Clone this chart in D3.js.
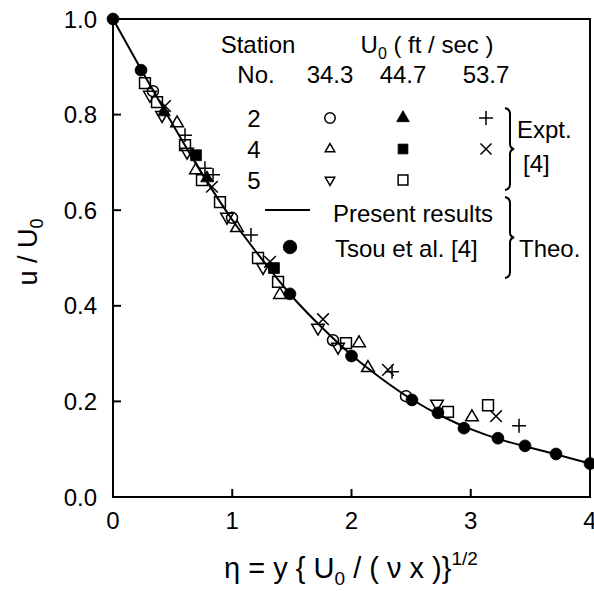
<!DOCTYPE html>
<html>
<head>
<meta charset="utf-8">
<script src="https://cdn.jsdelivr.net/npm/d3@7"></script>
<style>
  body { margin: 0; background: #fff; }
  text { font-family: "Liberation Sans", Arial, Helvetica, sans-serif; fill: #000; }
</style>
</head>
<body>
<svg id="chart" width="594" height="591"></svg>
<script>
// Present results (solid line)
var presentEta = [0, 0.25, 0.5, 0.75, 1.0, 1.25, 1.5, 1.75, 2.0, 2.25, 2.5, 2.75, 3.0, 3.25, 3.5, 3.75, 4.0]
var presentU   = [1.0, 0.888, 0.78, 0.675, 0.58, 0.497, 0.42, 0.355, 0.297, 0.248, 0.205, 0.17, 0.142, 0.12, 0.103, 0.087, 0.07]

// Tsou et al. [4] (solid circles)
var tsouEta = [0, 0.235, 1.484, 2.0, 2.507, 2.725, 2.943, 3.228, 3.455, 3.715, 4.0]
var tsouU   = [1.0, 0.893, 0.425, 0.295, 0.203, 0.176, 0.144, 0.123, 0.107, 0.090, 0.070]

// Expt. [4]  U0 = 34.3 ft/sec
var st2_343 = [[0.335, 0.849], [0.998, 0.584], [1.845, 0.328], [2.457, 0.211]]
var st4_343 = [[0.537, 0.782], [0.696, 0.684], [1.040, 0.563], [1.400, 0.423], [2.063, 0.322], [2.138, 0.270], [3.010, 0.167]]
var st5_343 = [[0.310, 0.841], [0.411, 0.799], [0.621, 0.722], [0.956, 0.586], [1.258, 0.481], [1.719, 0.354], [1.887, 0.314], [2.717, 0.195]]
// U0 = 44.7 ft/sec
var st2_447 = [[0.428, 0.805], [0.788, 0.667]]
var st4_447 = [[0.696, 0.715], [1.350, 0.479]]
var st5_447 = [[0.268, 0.866], [0.369, 0.826], [0.604, 0.736], [0.746, 0.663], [0.897, 0.617], [1.216, 0.500], [1.384, 0.450], [1.954, 0.322], [2.809, 0.178], [3.145, 0.192]]
// U0 = 53.7 ft/sec
var st2_537 = [[0.604, 0.757], [0.771, 0.688], [0.839, 0.674], [1.157, 0.548], [2.340, 0.262], [3.405, 0.149]]
var st4_537 = [[0.436, 0.818], [0.830, 0.649], [1.317, 0.492], [1.761, 0.372], [2.306, 0.266], [3.212, 0.169]]

var xTicks = [0, 1, 2, 3, 4]
var yTicks = [0, 0.2, 0.4, 0.6, 0.8, 1.0]
var speeds = ["34.3", "44.7", "53.7"]
var stations = ["2", "4", "5"]

var svg = d3.select("#chart")

var x = d3.scaleLinear().domain([0, 4]).range([113, 590])
var y = d3.scaleLinear().domain([0, 1]).range([497, 19])

// marker styles: symbol type, size, filled?, rotate
var styles = {
  circle:   { type: d3.symbolCircle, size: 95, fill: false },
  triUp:    { type: d3.symbolTriangle2, size: 115, fill: false },
  triDown:  { type: d3.symbolTriangle2, size: 115, fill: false, rot: 180 },
  triUpF:   { type: d3.symbolTriangle2, size: 115, fill: true },
  squareF:  { type: d3.symbolSquare2, size: 150, fill: true },
  square:   { type: d3.symbolSquare2, size: 150, fill: false },
  plus:     { type: d3.symbolPlus, size: 65, fill: false },
  times:    { type: d3.symbolTimes, size: 90, fill: false },
  dot:      { type: d3.symbolCircle, size: 110, fill: true }
}

var series = [
  { data: st2_343, style: "circle" },
  { data: st4_343, style: "triUp" },
  { data: st5_343, style: "triDown" },
  { data: st2_447, style: "triUpF" },
  { data: st4_447, style: "squareF" },
  { data: st5_447, style: "square" },
  { data: st2_537, style: "plus" },
  { data: st4_537, style: "times" }
]

function drawMarker(g, px, py, styleName, scale) {
  var s = styles[styleName]
  var k = scale || 1
  g.append("path")
    .attr("d", d3.symbol().type(s.type).size(s.size * k * k)())
    .attr("transform", "translate(" + px + "," + py + ")" + (s.rot ? " rotate(" + s.rot + ")" : ""))
    .attr("fill", s.fill ? "#000" : "none")
    .attr("stroke", "#000")
    .attr("stroke-width", s.fill ? 0.8 : 1.5)
}

// frame
svg.append("rect")
  .attr("x", x(0)).attr("y", y(1))
  .attr("width", x(4) - x(0)).attr("height", y(0) - y(1))
  .attr("fill", "none").attr("stroke", "#000").attr("stroke-width", 2)

// ticks (inward)
svg.selectAll(".xt").data([1, 2, 3]).enter().append("line")
  .attr("x1", d => x(d)).attr("x2", d => x(d))
  .attr("y1", y(0)).attr("y2", y(0) - 8)
  .attr("stroke", "#000").attr("stroke-width", 2)
svg.selectAll(".yt").data([0.2, 0.4, 0.6, 0.8]).enter().append("line")
  .attr("x1", x(0)).attr("x2", x(0) + 8)
  .attr("y1", d => y(d)).attr("y2", d => y(d))
  .attr("stroke", "#000").attr("stroke-width", 2)

// tick labels
svg.selectAll(".xl").data(xTicks).enter().append("text")
  .attr("x", d => x(d)).attr("y", 529)
  .attr("text-anchor", "middle").attr("font-size", 24)
  .text(d => d)
svg.selectAll(".yl").data(yTicks).enter().append("text")
  .attr("x", 97).attr("y", d => y(d) + 8.5)
  .attr("text-anchor", "end").attr("font-size", 24)
  .text(d => d3.format(".1f")(d))

// axis titles
var xt = svg.append("text").attr("x", 351).attr("y", 578)
  .attr("text-anchor", "middle").attr("font-size", 29)
xt.append("tspan").text("η = y { U")
xt.append("tspan").attr("font-size", 19).attr("dy", 7).text("0")
xt.append("tspan").attr("dy", -7).text(" / ( ν x )}")
xt.append("tspan").attr("font-size", 19).attr("dy", -13).text("1/2")

var yt = svg.append("text").attr("transform", "translate(37,252) rotate(-90)")
  .attr("text-anchor", "middle").attr("font-size", 27)
yt.append("tspan").text("u / U")
yt.append("tspan").attr("font-size", 18).attr("dy", 6).text("0")

// present results curve
var line = d3.line()
  .x(d => x(d[0])).y(d => y(d[1]))
  .curve(d3.curveMonotoneX)
svg.append("path")
  .datum(d3.zip(presentEta, presentU))
  .attr("d", line)
  .attr("fill", "none").attr("stroke", "#000").attr("stroke-width", 2)

// experimental markers
var mg = svg.append("g")
series.forEach(sr => {
  sr.data.forEach(d => drawMarker(mg, x(d[0]), y(d[1]), sr.style))
})

// Tsou et al. circles
d3.zip(tsouEta, tsouU).forEach(d => drawMarker(mg, x(d[0]), y(d[1]), "dot"))

// legend
var lg = svg.append("g")
function ltext(tx, ty, str, anchor) {
  return lg.append("text").attr("x", tx).attr("y", ty)
    .attr("font-size", 24).attr("text-anchor", anchor || "start").text(str)
}
ltext(258, 53, "Station", "middle")
ltext(256, 83, "No.", "middle")
var u0 = ltext(427, 53, "", "middle")
u0.append("tspan").text("U")
u0.append("tspan").attr("font-size", 16).attr("dy", 6).text("0")
u0.append("tspan").attr("dy", -6).text(" ( ft / sec )")

var colX = [330, 403, 486]
speeds.forEach((s, i) => ltext(colX[i], 83, s, "middle"))
var rowY = [118, 149, 180]
stations.forEach((s, i) => ltext(254, rowY[i] + 8.5, s, "middle"))

var legendStyles = [
  ["circle", "triUpF", "plus"],
  ["triUp", "squareF", "times"],
  ["triDown", "square", null]
]
var legendScale = { circle: 0.95, triUp: 0.75, triDown: 0.75, triUpF: 1, squareF: 0.9, square: 0.9, plus: 1, times: 0.95 }
legendStyles.forEach((row, r) => {
  row.forEach((st, c) => {
    if (st) drawMarker(lg, colX[c], rowY[r], st, legendScale[st])
  })
})

// present results / Tsou entries
lg.append("line").attr("x1", 265).attr("x2", 310).attr("y1", 210).attr("y2", 210)
  .attr("stroke", "#000").attr("stroke-width", 2)
ltext(333, 222, "Present results")
drawMarker(lg, 290, 247, "dot", 1.15)
ltext(335, 257, "Tsou et al. [4]")

// braces
function brace(bx, top, bottom) {
  var mid = (top + bottom) / 2
  var p = d3.path()
  p.moveTo(bx - 4, top)
  p.quadraticCurveTo(bx + 1, top + 1, bx + 1, top + 6)
  p.lineTo(bx + 1, mid - 5)
  p.quadraticCurveTo(bx + 1, mid - 1, bx + 5, mid)
  p.quadraticCurveTo(bx + 1, mid + 1, bx + 1, mid + 5)
  p.lineTo(bx + 1, bottom - 6)
  p.quadraticCurveTo(bx + 1, bottom - 1, bx - 4, bottom)
  lg.append("path").attr("d", p.toString())
    .attr("fill", "none").attr("stroke", "#000").attr("stroke-width", 2)
}
brace(509, 108, 190)
brace(509, 197, 278)
ltext(517, 138, "Expt.")
ltext(523, 172, "[4]")
ltext(519, 257, "Theo.")
</script>
</body>
</html>
